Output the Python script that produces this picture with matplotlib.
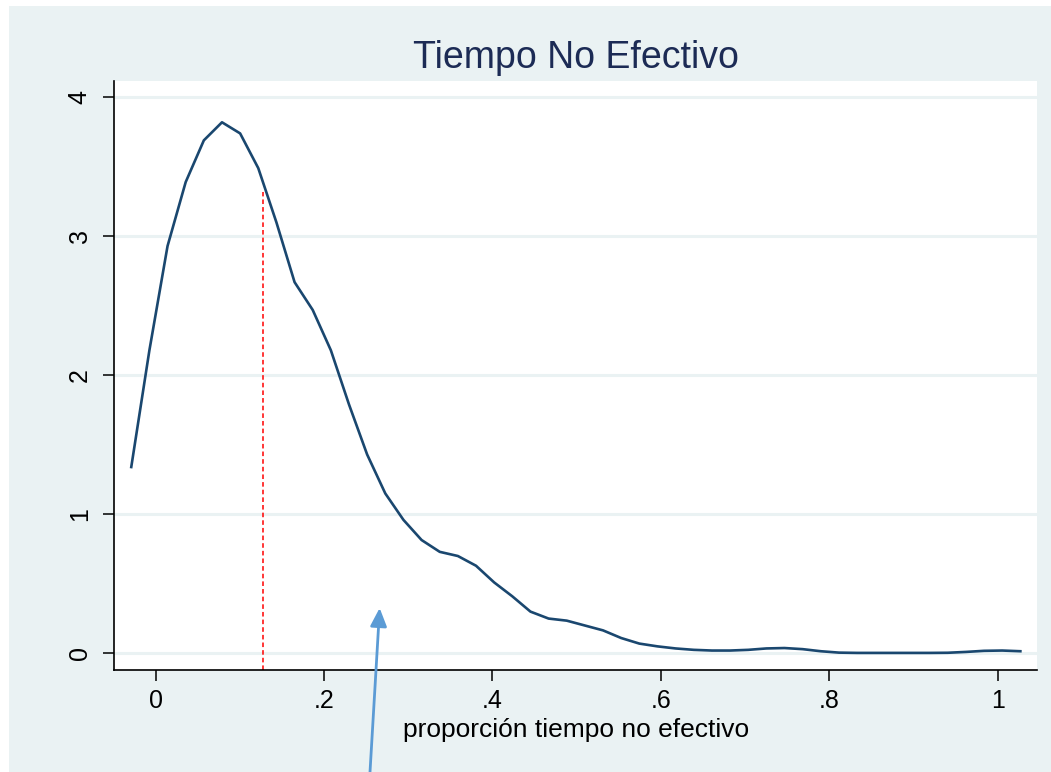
import matplotlib
matplotlib.use("Agg")
import matplotlib.pyplot as plt
from matplotlib.patches import Rectangle

# ---- data ----
x_start = -0.029
x_step = 0.02155
density = [1.34, 2.18, 2.93, 3.39, 3.69, 3.82, 3.74, 3.49, 3.10, 2.67,
           2.47, 2.18, 1.79, 1.43, 1.15, 0.96, 0.815, 0.73, 0.70, 0.63,
           0.51, 0.41, 0.30, 0.25, 0.235, 0.20, 0.165, 0.11, 0.07, 0.05,
           0.035, 0.025, 0.02, 0.02, 0.025, 0.035, 0.038, 0.03, 0.015, 0.005,
           0.003, 0.003, 0.003, 0.003, 0.003, 0.004, 0.01, 0.018, 0.02, 0.015]
xgrid = [x_start + i * x_step for i in range(len(density))]

mean_x = 0.128
mean_top = 3.32
arrow_tip = (0.266, 0.326)

xticks = [0, 0.2, 0.4, 0.6, 0.8, 1.0]
xticklabels = ["0", ".2", ".4", ".6", ".8", "1"]
yticks = [0, 1, 2, 3, 4]
yticklabels = ["0", "1", "2", "3", "4"]
title = "Tiempo No Efectivo"
xlabel = "proporción tiempo no efectivo"

# ---- figure ----
W, H = 1051, 772
plt.rcParams['font.family'] = ['Liberation Sans', 'DejaVu Sans']
fig = plt.figure(figsize=(W / 100, H / 100), dpi=100)
fig.patch.set_facecolor("white")
bg = "#EAF2F3"
fig.add_artist(Rectangle((9 / W, 0), 1 - 9 / W, (H - 6) / H,
                         transform=fig.transFigure, facecolor=bg,
                         edgecolor="none", zorder=-10))

ax = fig.add_axes([114 / W, (H - 670) / H, (1037 - 114) / W, (670 - 81) / H])
ax.set_facecolor("white")
ax.set_xlim(-0.0495, 1.0467)
ax.set_ylim(-0.12, 4.117)

for yv in yticks:
    ax.axhline(yv, color=bg, lw=2.2, zorder=0)

ax.plot(xgrid, density, color="#1a476f", lw=1.9, zorder=3)
ax.plot([mean_x, mean_x], [-0.12, mean_top], color="red", lw=1.1,
        dashes=(3, 2), zorder=2)

ax.set_xticks(xticks)
ax.set_xticklabels(xticklabels)
ax.set_yticks(yticks)
ax.set_yticklabels(yticklabels, rotation=90, va="center")
ax.tick_params(axis="both", direction="out", length=8, width=1.1,
               labelsize=18, colors="black")
ax.tick_params(axis="x", pad=6)
ax.tick_params(axis="y", pad=8)

for s in ["top", "right"]:
    ax.spines[s].set_visible(False)
for s in ["left", "bottom"]:
    ax.spines[s].set_linewidth(1.2)
    ax.spines[s].set_color("black")

fig.text(575.5 / W, (H - 68) / H, title, ha="center", va="baseline",
         fontsize=27, color="#1c2b55")
fig.text(576 / W, (H - 737) / H, xlabel, ha="center", va="baseline",
         fontsize=19, color="black")

ax.annotate("", xy=arrow_tip, xycoords="data",
            xytext=(370 / W, 0.0), textcoords="figure fraction",
            arrowprops=dict(arrowstyle="-|>,head_length=1.1,head_width=0.5",
                            color="#5b9bd5", lw=2.0, shrinkA=0, shrinkB=0),
            annotation_clip=False, zorder=5)

fig.savefig("out.png", dpi=100, facecolor=fig.get_facecolor())
